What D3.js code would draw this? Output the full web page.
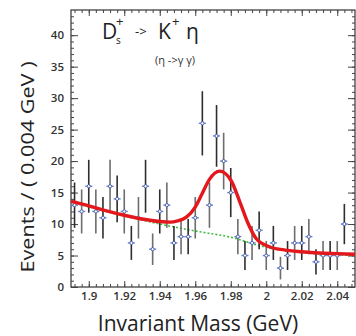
<!DOCTYPE html>
<html>
<head>
<meta charset="utf-8">
<script src="https://cdn.jsdelivr.net/npm/d3@7"></script>
<style>
  body { margin: 0; background: #fff; }
  text { font-family: "Open Sans", "Noto Sans", sans-serif; }
</style>
</head>
<body>
<div id="chart"></div>
<script>
// data
// bin centres (GeV), 0.004 wide
let binCentres = [1.892, 1.896, 1.900, 1.904, 1.908, 1.912, 1.916, 1.920, 1.924, 1.928,
  1.932, 1.936, 1.940, 1.944, 1.948, 1.952, 1.956, 1.960, 1.964, 1.968,
  1.972, 1.976, 1.980, 1.984, 1.988, 1.992, 1.996, 2.000, 2.004, 2.008,
  2.012, 2.016, 2.020, 2.024, 2.028, 2.032, 2.036, 2.040, 2.044];
let counts = [13, 12, 16, 12, 11, 16, 14, 12, 7, 11,
  16, 6, 12, 13, 7, 8, 8, 11, 26, 13,
  24, 20, 15, 8, 5, 7, 9, 5, 7, 3,
  5, 7, 7, 8, 4, 5, 5, 5, 10];
let errors = [3.6, 3.5, 4.2, 3.5, 3.3, 4.2, 3.7, 3.5, 2.7, 3.3,
  4.2, 2.5, 3.5, 3.6, 2.7, 2.8, 2.8, 3.3, 5.1, 3.6,
  4.9, 4.5, 3.9, 2.8, 2.3, 2.7, 3.0, 2.3, 2.7, 1.8,
  2.3, 2.7, 2.7, 2.8, 2.0, 2.3, 2.3, 2.3, 3.2];

// total fit (red)
let fitX = [1.890, 1.900, 1.910, 1.920, 1.930, 1.940, 1.946, 1.950, 1.955, 1.960,
  1.9635, 1.968, 1.9737, 1.980, 1.9858, 1.9896, 1.9943, 2.0017, 2.010, 2.020,
  2.030, 2.040, 2.050];
let fitY = [13.6, 12.9, 12.1, 11.4, 10.8, 10.4, 10.3, 10.5, 11.1, 12.7,
  14.6, 17.1, 18.4, 17.0, 13.0, 10.2, 7.7, 6.4, 5.9, 5.6,
  5.4, 5.3, 5.2];

// background (green dotted)
let bgX = [1.890, 1.920, 1.940, 1.960, 1.980, 2.000, 2.020, 2.050];
let bgY = [13.5, 11.3, 10.0, 8.9, 7.9, 6.3, 5.5, 5.0];

let xTicks = [1.9, 1.92, 1.94, 1.96, 1.98, 2, 2.02, 2.04];
let yTicks = [0, 5, 10, 15, 20, 25, 30, 35, 40];

// chart setup
let svgWidth = 356;
let svgHeight = 336;
let margin = { top: 10, right: 1, bottom: 49, left: 71 };
let width = svgWidth - margin.left - margin.right;
let height = svgHeight - margin.top - margin.bottom;

let svg = d3.select('#chart')
  .append('svg')
  .attr('width', svgWidth)
  .attr('height', svgHeight);

let chartGroup = svg.append('g')
  .attr('transform', `translate(${margin.left},${margin.top})`);

let x = d3.scaleLinear().domain([1.89, 2.05]).range([0, width]);
let y = d3.scaleLinear().domain([0, 44]).range([height, 0]);

// frame
chartGroup.append('rect')
  .attr('width', width)
  .attr('height', height)
  .attr('fill', 'none')
  .attr('stroke', '#333')
  .attr('stroke-width', 1.2);

// ticks pointing inwards, minor + major
let xMinor = d3.range(1.892, 2.05, 0.004);
let yMinor = d3.range(1, 44, 1);

function tickAxes(axisFn, scale, values, len, transform) {
  chartGroup.append('g')
    .attr('transform', transform)
    .call(axisFn(scale).tickValues(values).tickSize(len).tickFormat(''))
    .call(g => g.select('.domain').remove())
    .call(g => g.selectAll('line').attr('stroke', '#444'));
}
tickAxes(d3.axisTop, x, xMinor, 3, `translate(0,${height})`);
tickAxes(d3.axisTop, x, xTicks, 6, `translate(0,${height})`);
tickAxes(d3.axisBottom, x, xMinor, 3, 'translate(0,0)');
tickAxes(d3.axisBottom, x, xTicks, 6, 'translate(0,0)');
tickAxes(d3.axisRight, y, yMinor, 3, 'translate(0,0)');
tickAxes(d3.axisRight, y, yTicks, 7, 'translate(0,0)');
tickAxes(d3.axisLeft, y, yMinor, 3, `translate(${width},0)`);
tickAxes(d3.axisLeft, y, yTicks, 7, `translate(${width},0)`);

// tick labels
chartGroup.append('g')
  .attr('transform', `translate(0,${height})`)
  .call(d3.axisBottom(x).tickValues(xTicks).tickSize(0).tickPadding(5).tickFormat(d3.format('')))
  .call(g => g.select('.domain').remove())
  .call(g => g.selectAll('text').attr('font-size', 11.5).attr('fill', '#333').attr('font-weight', 600));

chartGroup.append('g')
  .call(d3.axisLeft(y).tickValues(yTicks).tickSize(0).tickPadding(7))
  .call(g => g.select('.domain').remove())
  .call(g => g.selectAll('text').attr('font-size', 11.5).attr('fill', '#333').attr('font-weight', 600));

// background curve
let line = d3.line().x(d => x(d[0])).y(d => y(d[1])).curve(d3.curveMonotoneX);

chartGroup.append('path')
  .datum(bgX.map((v, i) => [v, bgY[i]]))
  .attr('d', line)
  .attr('fill', 'none')
  .attr('stroke', '#3cbf3c')
  .attr('stroke-width', 1.6)
  .attr('stroke-dasharray', '2,2');

// data points with error bars
let pts = chartGroup.selectAll('.pt')
  .data(binCentres.map((c, i) => ({ c: c, n: counts[i], e: errors[i], i: i })))
  .enter()
  .append('g')
  .attr('class', 'pt');

pts.append('line')
  .attr('x1', d => x(d.c))
  .attr('x2', d => x(d.c))
  .attr('y1', d => y(d.n + d.e))
  .attr('y2', d => y(Math.max(0, d.n - d.e)))
  .attr('stroke', d => d.i % 2 ? '#6d6d6d' : '#2e2e2e')
  .attr('stroke-width', 1.6);

pts.append('line')
  .attr('x1', d => x(d.c - 0.002))
  .attr('x2', d => x(d.c + 0.002))
  .attr('y1', d => y(d.n))
  .attr('y2', d => y(d.n))
  .attr('stroke', '#6a82c4')
  .attr('stroke-width', 1.4);

pts.append('circle')
  .attr('cx', d => x(d.c))
  .attr('cy', d => y(d.n))
  .attr('r', 1.6)
  .attr('fill', '#fff')
  .attr('stroke', '#4a62b0')
  .attr('stroke-width', 1);

// total fit
chartGroup.append('path')
  .datum(fitX.map((v, i) => [v, fitY[i]]))
  .attr('d', line)
  .attr('fill', 'none')
  .attr('stroke', '#e4181c')
  .attr('stroke-width', 3.4)
  .attr('stroke-linejoin', 'round');

// title
svg.append('text').attr('x', 102).attr('y', 39).attr('font-size', 21).attr('fill', '#222').text('D');
svg.append('text').attr('x', 116).attr('y', 44).attr('font-size', 10).attr('fill', '#222').text('s');
svg.append('text').attr('x', 116).attr('y', 26).attr('font-size', 13).attr('fill', '#222').text('+');
svg.append('text').attr('x', 135).attr('y', 36).attr('font-size', 13).attr('fill', '#222').text('->');
svg.append('text').attr('x', 158).attr('y', 39).attr('font-size', 21).attr('fill', '#222').text('K');
svg.append('text').attr('x', 172).attr('y', 26).attr('font-size', 13).attr('fill', '#222').text('+');
svg.append('text').attr('x', 186).attr('y', 39).attr('font-size', 21).attr('fill', '#222').text('η');
svg.append('text').attr('x', 155).attr('y', 64).attr('font-size', 11).attr('fill', '#333').text('(η  ->γ γ)');

// axis labels
svg.append('text')
  .attr('transform', 'translate(34,167) rotate(-90)')
  .attr('text-anchor', 'middle')
  .attr('font-size', 19)
  .attr('textLength', 211)
  .attr('lengthAdjust', 'spacingAndGlyphs')
  .attr('fill', '#222')
  .text('Events / ( 0.004 GeV )');

svg.append('text')
  .attr('x', 198)
  .attr('y', 331)
  .attr('text-anchor', 'middle')
  .attr('font-size', 21)
  .attr('fill', '#222')
  .text('Invariant Mass (GeV)');
</script>
</body>
</html>
